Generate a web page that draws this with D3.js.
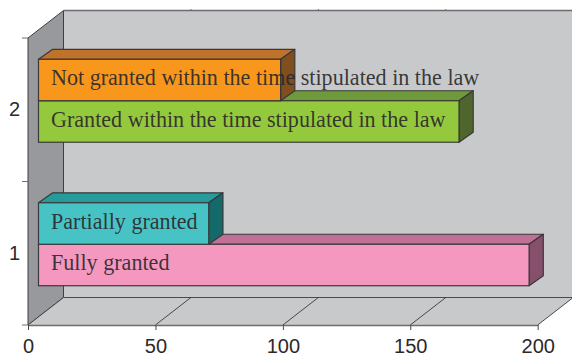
<!DOCTYPE html>
<html>
<head>
<meta charset="utf-8">
<script src="https://cdn.jsdelivr.net/npm/d3@7"></script>
<style>
  html, body { margin: 0; padding: 0; background: #fff; }
  svg { display: block; }
</style>
</head>
<body>
<figure id="chart" style="margin:0"></figure>
<script>
// values
const categories = ['1', '2'];
const seriesKeys = ['lower', 'upper'];
const lowerValues = [192.5, 165];
const upperValues = [66.8, 95];
const lowerLabels = ['Fully granted', 'Granted within the time stipulated in the law'];
const upperLabels = ['Partially granted', 'Not granted within the time stipulated in the law'];
const lowerColors = ['#f498c0', '#95c93d'];
const upperColors = ['#48c3c5', '#f9971d'];
const lowerTops = ['#c07096', '#6f9a3c'];
const upperTops = ['#269b9b', '#bf7229'];
const lowerSides = ['#864f6c', '#4e662e'];
const upperSides = ['#146a6b', '#7f4f1e'];
const xTicks = [0, 50, 100, 150, 200];

const width = 572;
const height = 357;
const depthX = 35.5;
const depthY = 27.5;
const barDepthX = 14.2;
const barDepthY = 10;
const barOffsetX = 10.5;
const barOffsetY = 9;

const ink = '#3a3839';
const textColor = '#2b292a';

const x = d3.scaleLinear().domain([0, 200]).range([28, 537.7]);
const y = d3.scaleBand().domain(categories).range([325, 38]);
const inner = d3.scaleBand().domain(['upper', 'lower']).range([0, y.bandwidth()]).paddingInner(0).paddingOuter(0.73);

const svg = d3.select('#chart').append('svg')
  .attr('width', width)
  .attr('height', height)
  .attr('viewBox', `0 0 ${width} ${height}`);

const poly = (g, pts, fill, stroke, sw) => g.append('polygon')
  .attr('points', pts.map(p => p.join(',')).join(' '))
  .attr('fill', fill)
  .attr('stroke', stroke)
  .attr('stroke-width', sw)
  .attr('stroke-linejoin', 'round');

const [x0, x1] = x.range();
const [yBottom, yTop] = y.range();
const xRight = x(200) + depthX;

// walls and floor
const walls = svg.append('g');
poly(walls, [[x0 + depthX, yTop - depthY], [xRight, yTop - depthY], [xRight, yBottom - depthY], [x0 + depthX, yBottom - depthY]], '#c8c9cb', 'none', 0);
poly(walls, [[x0, yTop], [x0 + depthX, yTop - depthY], [x0 + depthX, yBottom - depthY], [x0, yBottom]], '#98999d', '#3f3f42', 1);
poly(walls, [[x0, yBottom], [x1, yBottom], [xRight, yBottom - depthY], [x0 + depthX, yBottom - depthY]], '#c8c9cb', 'none', 0);

walls.append('line')
  .attr('x1', x0 + depthX).attr('x2', xRight)
  .attr('y1', yTop - depthY).attr('y2', yTop - depthY)
  .attr('stroke', '#6d6e71').attr('stroke-width', 1.6);
walls.append('line')
  .attr('x1', x0 + depthX).attr('x2', xRight)
  .attr('y1', yBottom - depthY).attr('y2', yBottom - depthY)
  .attr('stroke', '#4a4a4d').attr('stroke-width', 1.2);

// floor grid lines and the little ticks on top of the back wall
walls.selectAll('line.floor')
  .data(xTicks)
  .enter()
  .append('line')
  .attr('class', 'floor')
  .attr('x1', d => x(d)).attr('y1', yBottom)
  .attr('x2', d => x(d) + depthX).attr('y2', yBottom - depthY)
  .attr('stroke', '#3a3839').attr('stroke-width', 0.9);
walls.selectAll('line.topTick')
  .data(xTicks.slice(1, -1))
  .enter()
  .append('line')
  .attr('class', 'topTick')
  .attr('x1', d => x(d) + depthX).attr('y1', yTop - depthY)
  .attr('x2', d => x(d) + depthX).attr('y2', yTop - depthY - 1.5)
  .attr('stroke', '#6d6e71').attr('stroke-width', 1);

// axes
const xAxis = svg.append('g')
  .attr('transform', `translate(0,${yBottom})`)
  .call(d3.axisBottom(x).tickValues(xTicks).tickSize(5).tickPadding(9).tickSizeOuter(0));
xAxis.select('.domain').attr('stroke', '#6d6e71').attr('stroke-width', 1.6);

const yAxis = svg.append('g')
  .attr('transform', `translate(${x0},0)`)
  .call(d3.axisLeft(y).tickSize(0).tickPadding(8));
yAxis.select('.domain').remove();
yAxis.selectAll('.yTick')
  .data(d3.range(categories.length + 1))
  .enter()
  .append('line')
  .attr('x1', -6).attr('x2', 0)
  .attr('y1', d => yBottom - d * y.step()).attr('y2', d => yBottom - d * y.step())
  .attr('stroke', '#6d6e71').attr('stroke-width', 1);

svg.selectAll('.tick line').attr('stroke', '#4a4a4d');
svg.selectAll('.tick text')
  .attr('font-family', '"Liberation Sans", Arial, sans-serif')
  .attr('font-size', 20)
  .attr('fill', textColor);
yAxis.selectAll('.tick text').attr('dy', '0.32em');

// bars, back to front, bottom to top
const barX = x.copy().range([x0 + barOffsetX, x1 + barOffsetX]);
const bars = svg.append('g');
const labels = svg.append('g');

const drawBar = (catIdx, key, value, label, front, top, side) => {
  const yy = y(categories[catIdx]) + inner(key) - barOffsetY;
  const h = inner.bandwidth();
  const xa = barX(0);
  const xb = barX(value);
  const g = bars.append('g');
  poly(g, [[xa, yy], [xa + barDepthX, yy - barDepthY], [xb + barDepthX, yy - barDepthY], [xb, yy]], top, ink, 1.2);
  poly(g, [[xb, yy], [xb + barDepthX, yy - barDepthY], [xb + barDepthX, yy + h - barDepthY], [xb, yy + h]], side, ink, 1.2);
  g.append('rect')
    .attr('x', xa).attr('y', yy)
    .attr('width', xb - xa).attr('height', h)
    .attr('fill', front).attr('stroke', ink).attr('stroke-width', 1.2);
  labels.append('text')
    .attr('x', xa + 12.5)
    .attr('y', yy + h / 2 - 1.5)
    .attr('dy', '0.3em')
    .attr('font-family', '"Liberation Serif", "Times New Roman", serif')
    .attr('font-size', 22.1)
    .attr('fill', textColor)
    .attr('fill-opacity', 0.92)
    .text(label);
};

categories.forEach((c, i) => {
  drawBar(i, 'lower', lowerValues[i], lowerLabels[i], lowerColors[i], lowerTops[i], lowerSides[i]);
  drawBar(i, 'upper', upperValues[i], upperLabels[i], upperColors[i], upperTops[i], upperSides[i]);
});
</script>
</body>
</html>
